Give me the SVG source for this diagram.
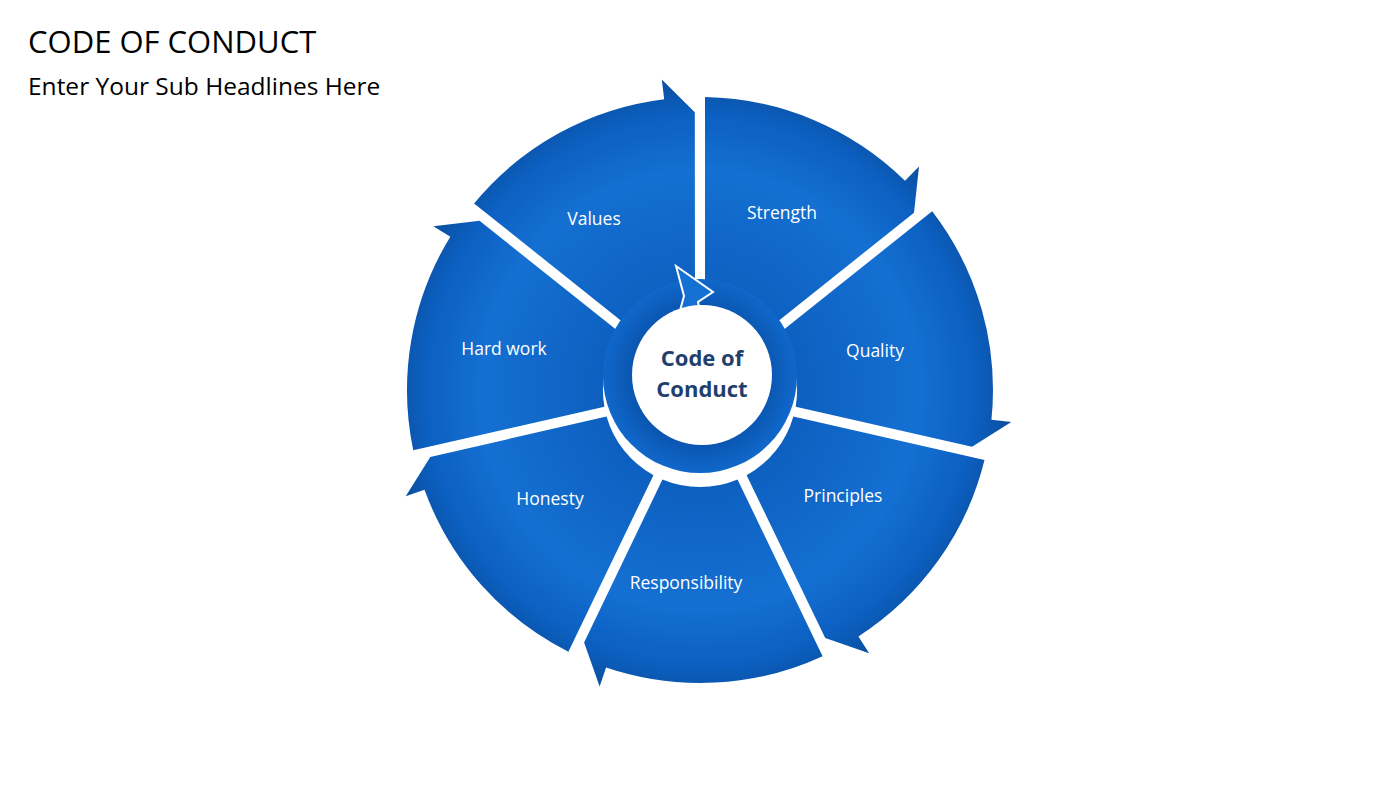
<svg xmlns="http://www.w3.org/2000/svg" width="1400" height="788" viewBox="0 0 1400 788">
<defs>
<radialGradient id="g" gradientUnits="userSpaceOnUse" cx="0" cy="0" r="312">
<stop offset="0.3" stop-color="#0d5fbf"/>
<stop offset="0.7" stop-color="#1470d2"/>
<stop offset="0.88" stop-color="#0c60c2"/>
<stop offset="1" stop-color="#0a4f9f"/>
</radialGradient>
<radialGradient id="r" cx="0.5" cy="0.5" r="0.5">
<stop offset="0.7" stop-color="#0a55b0"/>
<stop offset="1" stop-color="#1068cb"/>
</radialGradient>
<path id="seg" d="M5,-96.9 L5,-292.96 A293,293 0 0 1 205,-209.3 L219,-223.5 L214,-177.3 L72.7,-64.4 A97,97 0 0 0 5,-96.9 Z"/>
</defs>
<style>
.t{font-family:"Open Sans","Liberation Sans",sans-serif;fill:#fff;font-size:17.5px;text-anchor:middle}
.h{font-family:"Open Sans","Liberation Sans",sans-serif;fill:#000}
.c{font-family:"Open Sans","Liberation Sans",sans-serif;fill:#1f3f6e;font-size:22px;font-weight:bold;text-anchor:middle}
</style>
<rect width="1400" height="788" fill="#fff"/>
<text class="h" x="28" y="53" font-size="31">CODE OF CONDUCT</text>
<text class="h" x="28" y="95" font-size="24.5">Enter Your Sub Headlines Here</text>
<g id="connectors"/>
<g id="strength" transform="translate(700,390) rotate(0)"><use href="#seg" fill="url(#g)"/></g>
<g id="quality" transform="translate(700,390) rotate(51.43)"><use href="#seg" fill="url(#g)"/></g>
<g id="principles" transform="translate(700,390) rotate(102.86)"><use href="#seg" fill="url(#g)"/></g>
<g id="responsibility" transform="translate(700,390) rotate(154.29)"><use href="#seg" fill="url(#g)"/></g>
<g id="honesty" transform="translate(700,390) rotate(205.71)"><use href="#seg" fill="url(#g)"/></g>
<g id="hardwork" transform="translate(700,390) rotate(257.14)"><use href="#seg" fill="url(#g)"/></g>
<g id="values" transform="translate(700,390) rotate(308.57)"><use href="#seg" fill="url(#g)"/></g>
<g id="labels">
<text class="t" x="594" y="225">Values</text>
<text class="t" x="782" y="219">Strength</text>
<text class="t" x="875" y="357">Quality</text>
<text class="t" x="843" y="502">Principles</text>
<text class="t" x="686" y="589">Responsibility</text>
<text class="t" x="550" y="505">Honesty</text>
<text class="t" x="504" y="355">Hard work</text>
</g>
<g id="center">
<circle cx="700" cy="376" r="97" fill="url(#r)"/>
<path d="M676,266 L713,292 L698,302 L703,324 L678,318 L684,296 Z" fill="#1470d2" stroke="#fff" stroke-width="2"/>
<circle cx="702" cy="375" r="70" fill="#fff"/>
<text class="c" x="702" y="366">Code of</text>
<text class="c" x="702" y="397">Conduct</text>
</g>
</svg>
